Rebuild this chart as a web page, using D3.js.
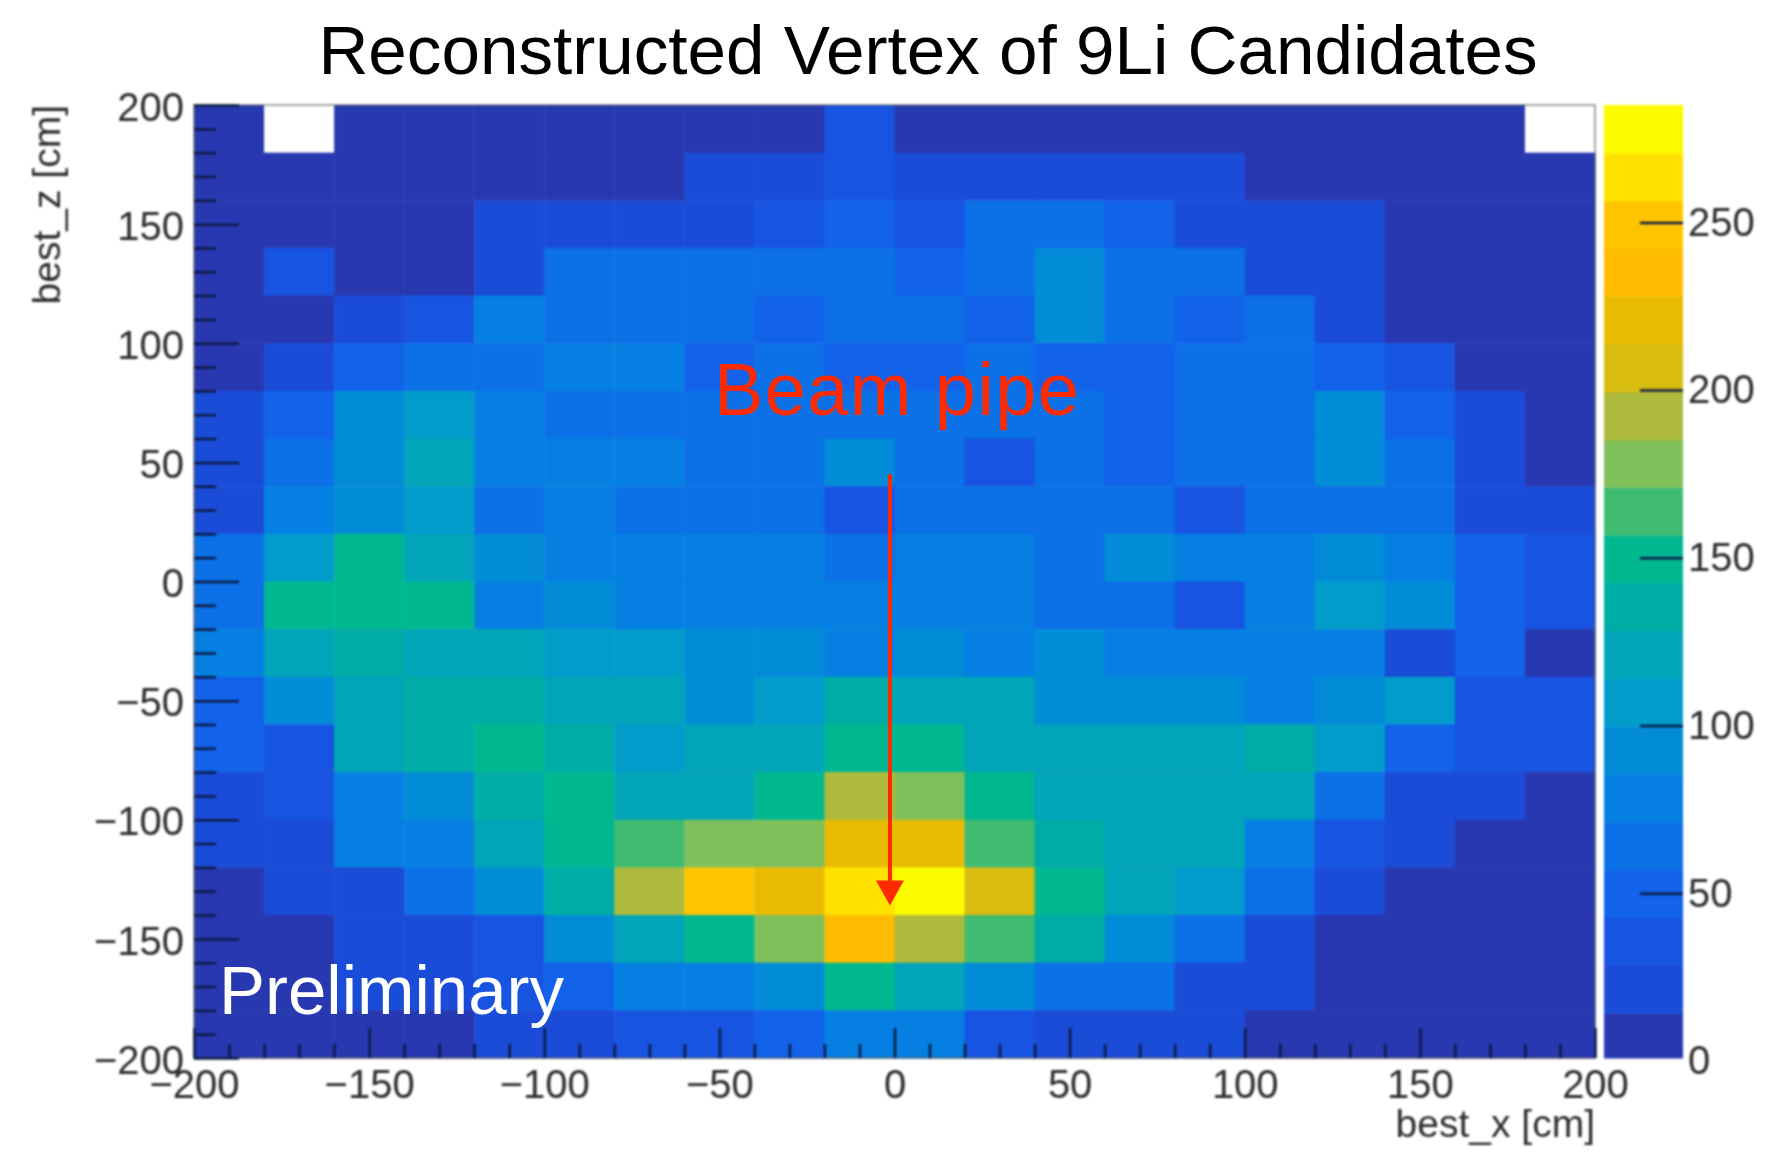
<!DOCTYPE html>
<html>
<head>
<meta charset="utf-8">
<script src="https://cdn.jsdelivr.net/npm/d3@7"></script>
<style>
  html, body { margin: 0; background: #fff; }
  text { font-family: "Liberation Sans", sans-serif; }
  .soft { filter: blur(1px); }
</style>
</head>
<body>
<div id="chart"></div>
<script>
const TITLE = "Reconstructed Vertex of 9Li Candidates";
const xTicks = [-200, -150, -100, -50, 0, 50, 100, 150, 200];
const zTicks = [-200, -150, -100, -50, 0, 50, 100, 150, 200];
const barTicks = [0, 50, 100, 150, 200, 250];
const binEdges = d3.range(-200, 200, 20);   // lower edge of each bin, both axes
const MAX_COUNT = 285;

// 20 contour colours, low to high
const palette = ["#2838b0", "#1a4cd8", "#1854e2", "#1262ea", "#0c70e6", "#0580e2",
  "#028cd8", "#029ccb", "#01a4b8", "#00aca6", "#00b890", "#3fbb72",
  "#80c05a", "#aeba3c", "#d8bc10", "#e8bb02", "#ffbc00", "#ffc400", "#ffe200", "#fbfb00"];

// counts per bin, rows from z = 180..200 down to z = -200..-180, null = empty bin
const counts = [
  [8, null, 8, 8, 8, 8, 8, 8, 8, 35, 8, 8, 8, 8, 8, 8, 8, 8, 8, null],
  [8, 8, 8, 8, 8, 8, 8, 21, 21, 35, 21, 21, 21, 21, 21, 8, 8, 8, 8, 8],
  [8, 8, 8, 8, 21, 21, 21, 21, 42, 50, 42, 64, 64, 50, 21, 21, 21, 8, 8, 8],
  [8, 35, 8, 8, 21, 64, 64, 64, 64, 64, 50, 64, 92, 64, 64, 21, 21, 8, 8, 8],
  [8, 8, 21, 42, 78, 64, 64, 64, 50, 64, 64, 50, 92, 64, 50, 64, 21, 8, 8, 8],
  [8, 21, 50, 64, 64, 78, 78, 50, 64, 50, 50, 64, 50, 50, 64, 64, 50, 35, 8, 8],
  [21, 50, 92, 107, 78, 64, 64, 64, 64, 57, 64, 64, 64, 50, 64, 64, 92, 50, 21, 8],
  [21, 64, 92, 121, 78, 78, 78, 64, 64, 92, 64, 42, 64, 50, 64, 64, 92, 64, 21, 8],
  [21, 78, 92, 107, 57, 78, 64, 64, 64, 42, 64, 64, 64, 64, 42, 64, 64, 64, 21, 21],
  [64, 107, 149, 121, 92, 78, 78, 78, 78, 71, 78, 78, 64, 92, 78, 78, 92, 78, 50, 35],
  [64, 149, 156, 149, 85, 92, 78, 78, 78, 78, 78, 78, 64, 64, 35, 78, 107, 92, 50, 35],
  [78, 121, 135, 121, 114, 107, 107, 92, 92, 85, 92, 78, 92, 78, 78, 78, 78, 21, 50, 8],
  [50, 92, 121, 135, 135, 121, 121, 92, 107, 135, 121, 121, 92, 92, 92, 78, 92, 107, 35, 35],
  [50, 35, 121, 135, 149, 135, 107, 121, 121, 149, 149, 121, 114, 121, 121, 135, 107, 50, 35, 35],
  [21, 35, 85, 92, 135, 149, 121, 121, 149, 192, 178, 149, 121, 121, 121, 121, 64, 21, 21, 8],
  [21, 21, 78, 78, 121, 149, 163, 178, 178, 227, 220, 163, 135, 121, 121, 78, 42, 21, 8, 8],
  [8, 21, 21, 64, 92, 135, 192, 249, 220, 263, 277, 206, 149, 121, 100, 64, 21, 8, 8, 8],
  [8, 8, 21, 21, 35, 92, 121, 149, 178, 234, 192, 163, 135, 92, 64, 21, 8, 8, 8, 8],
  [8, 8, 21, 21, 35, 50, 78, 78, 92, 149, 121, 92, 64, 64, 21, 21, 8, 8, 8, 8],
  [8, 8, 8, 8, 21, 21, 35, 35, 50, 78, 78, 35, 21, 21, 21, 8, 8, 8, 8, 8]
];

const width = 1768;
const height = 1154;
const plot = {left: 194, right: 1595, top: 105, bottom: 1058};
const bar = {left: 1604, right: 1683};

const x = d3.scaleLinear().domain([-200, 200]).range([plot.left, plot.right]);
const z = d3.scaleLinear().domain([-200, 200]).range([plot.bottom, plot.top]);
const barY = d3.scaleLinear().domain([0, MAX_COUNT]).range([plot.bottom + 3, plot.top]);
const color = d3.scaleQuantize().domain([0, MAX_COUNT]).range(palette);

const svg = d3.select("#chart").append("svg")
    .attr("width", width)
    .attr("height", height);

svg.append("text")
    .attr("x", 928)
    .attr("y", 74)
    .attr("text-anchor", "middle")
    .attr("font-size", 69.2)
    .attr("fill", "#000")
    .text(TITLE);

const soft = svg.append("g").attr("class", "soft");

// bins
const cells = counts.flatMap((row, r) => row.map((v, c) => ({
    x0: binEdges[c],
    z0: binEdges[counts.length - 1 - r],
    v: v
})));

soft.append("g").selectAll("rect")
    .data(cells)
    .enter().append("rect")
    .attr("x", d => x(d.x0))
    .attr("y", d => z(d.z0 + 20))
    .attr("width", x(20) - x(0) + 0.5)
    .attr("height", z(0) - z(20) + 0.5)
    .attr("fill", d => d.v === null ? "#fff" : color(d.v));

// frame
soft.append("rect")
    .attr("x", plot.left)
    .attr("y", plot.top)
    .attr("width", plot.right - plot.left)
    .attr("height", plot.bottom - plot.top)
    .attr("fill", "none")
    .attr("stroke", "#555")
    .attr("stroke-opacity", 0.7)
    .attr("stroke-width", 1.5);

// minor ticks first, then the labelled ones
const minor = d3.range(-200, 201, 10).filter(d => d % 50 !== 0);
const tickText = d => d3.format("d")(d).replace("-", "\u2212");

const styleAxis = (g) => {
    g.select(".domain").remove();
    g.selectAll("line").attr("stroke", "#0c1a44").attr("stroke-width", 2.5);
    g.selectAll("text")
        .attr("font-size", 40)
        .attr("fill", "#2c2c2c")
        .attr("font-family", "'Liberation Sans', sans-serif");
};

const axisBottomMinor = d3.axisBottom(x).tickValues(minor).tickSize(-14).tickFormat("");
const axisBottomMajor = d3.axisBottom(x).tickValues(xTicks).tickSize(-30).tickPadding(12)
    .tickFormat(tickText);
const axisLeftMinor = d3.axisLeft(z).tickValues(minor).tickSize(-22).tickFormat("");
const axisLeftMajor = d3.axisLeft(z).tickValues(zTicks).tickSize(-45).tickPadding(10)
    .tickFormat(tickText);

soft.append("g").attr("transform", `translate(0,${plot.bottom})`).call(axisBottomMinor).call(styleAxis);
soft.append("g").attr("transform", `translate(0,${plot.bottom})`).call(axisBottomMajor).call(styleAxis);
soft.append("g").attr("transform", `translate(${plot.left},0)`).call(axisLeftMinor).call(styleAxis);
soft.append("g").attr("transform", `translate(${plot.left},0)`).call(axisLeftMajor).call(styleAxis)
    .selectAll("text").attr("dy", "0.38em");

soft.append("text")
    .attr("x", plot.right)
    .attr("y", 1137)
    .attr("text-anchor", "end")
    .attr("font-size", 39)
    .attr("fill", "#2c2c2c")
    .text("best_x [cm]");

soft.append("text")
    .attr("transform", `translate(60,${plot.top}) rotate(-90)`)
    .attr("text-anchor", "end")
    .attr("font-size", 39)
    .attr("fill", "#2c2c2c")
    .text("best_z [cm]");

// colour bar, bottom band stops at the frame
const step = MAX_COUNT / palette.length;
soft.append("g").selectAll("rect")
    .data(palette)
    .enter().append("rect")
    .attr("x", bar.left)
    .attr("y", (d, i) => barY((i + 1) * step))
    .attr("width", bar.right - bar.left)
    .attr("height", (d, i) => Math.min(barY(i * step), plot.bottom) - barY((i + 1) * step) + 0.5)
    .attr("fill", d => d);

const axisBar = d3.axisRight(barY).tickValues(barTicks).tickSize(-43).tickPadding(5);
soft.append("g").attr("transform", `translate(${bar.right},0)`).call(axisBar).call(styleAxis)
    .selectAll("line").filter(d => d === 0).remove();

// annotations
const ARROW_X = -1.3;
const ARROW_TOP = 45;
const ARROW_TIP = -136;
const RED = "#ff2a00";

svg.append("line")
    .attr("x1", x(ARROW_X))
    .attr("x2", x(ARROW_X))
    .attr("y1", z(ARROW_TOP))
    .attr("y2", z(ARROW_TIP) - 20)
    .attr("stroke", RED)
    .attr("stroke-width", 4);

svg.append("path")
    .attr("d", d3.line()([
        [x(ARROW_X) - 14, z(ARROW_TIP) - 25],
        [x(ARROW_X) + 14, z(ARROW_TIP) - 25],
        [x(ARROW_X), z(ARROW_TIP)]
    ]) + "Z")
    .attr("fill", RED);

svg.append("text")
    .attr("x", 714)
    .attr("y", 415)
    .attr("font-size", 74)
    .attr("letter-spacing", 1.4)
    .attr("fill", RED)
    .text("Beam pipe");

svg.append("text")
    .attr("x", 219)
    .attr("y", 1014)
    .attr("font-size", 69)
    .attr("fill", "#fff")
    .text("Preliminary");
</script>
</body>
</html>
